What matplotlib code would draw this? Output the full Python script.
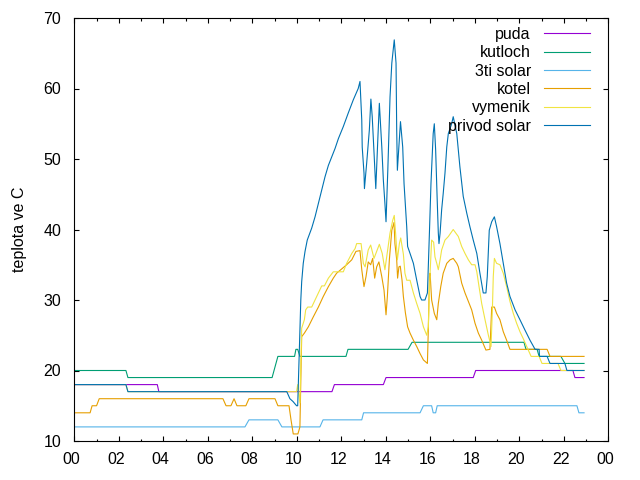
import matplotlib
matplotlib.use("Agg")
import matplotlib.pyplot as plt
import matplotlib.transforms as mtransforms
from matplotlib.ticker import FixedLocator, FuncFormatter, MultipleLocator

plt.rcParams['font.family'] = ['Liberation Sans', 'DejaVu Sans']

# ---- data (hours of day, temperature in C) ----
puda_t = [0, 3.73, 3.80, 11.58, 11.69, 13.89, 14.01, 17.93, 18.04, 22.41, 22.50, 22.91]
puda_v = [18, 18, 17, 17, 18, 18, 19, 19, 20, 20, 19, 19]

kutloch_t = [0, 2.32, 2.41, 8.89, 9.15, 9.90, 9.96, 10.04, 10.14, 12.21,
             12.30, 15.00, 15.18, 20.21, 20.30, 20.80, 20.89, 21.87, 22.05, 22.91]
kutloch_v = [20, 20, 19, 19, 22, 22, 23, 23, 22, 22,
             23, 23, 24, 24, 23, 23, 22, 22, 21, 21]

solar3_t = [0, 7.67, 7.85, 9.15, 9.33, 11.04, 11.18, 12.92, 13.00, 15.54,
            15.69, 16.06, 16.13, 16.24, 16.31, 22.59, 22.68, 22.91]
solar3_v = [12, 12, 13, 13, 12, 12, 13, 13, 14, 14,
            15, 15, 14, 14, 15, 15, 14, 14]

kotel_t = [0, 0.71, 0.80, 1.00, 1.12, 6.68, 6.82, 7.04, 7.18, 7.31,
           7.71, 7.85, 9.02, 9.15, 9.65, 9.74, 9.84, 10.05, 10.14, 10.22,
           10.34, 10.52, 10.74, 10.97, 11.19, 11.42, 11.64, 11.79, 12.24, 12.47,
           12.66, 12.84, 12.92, 13.02, 13.11, 13.21, 13.32, 13.41, 13.50, 13.59,
           13.69, 13.82, 13.92, 14.01, 14.07, 14.16, 14.27, 14.37, 14.41, 14.49,
           14.53, 14.59, 14.65, 14.73, 14.79, 14.88, 14.98, 15.09, 15.24, 15.39,
           15.54, 15.69, 15.87, 15.91, 15.96, 15.99, 16.06, 16.18, 16.29, 16.36,
           16.47, 16.58, 16.74, 16.89, 17.03, 17.19, 17.26, 17.41, 17.56, 17.71,
           17.86, 18.01, 18.16, 18.31, 18.50, 18.68, 18.76, 18.88, 18.98, 19.13,
           19.28, 19.43, 19.58, 21.25, 21.38, 22.91]
kotel_v = [14, 14, 15, 15, 16, 16, 15, 15, 16, 15,
           15, 16, 16, 15, 15, 13, 11, 11, 12, 24.8,
           25.3, 26.2, 27.6, 29, 30.5, 31.9, 33.1, 33.8, 35, 35.7,
           36.9, 37, 34.3, 31.9, 33.3, 35.4, 35, 35.9, 33.1, 34.7,
           35.4, 33.3, 31.4, 27.9, 30.5, 35.7, 39.9, 41, 38, 35.7,
           33.1, 34.7, 34.8, 32.8, 30.5, 28.2, 26.2, 25.3, 24.3, 23.4,
           22.4, 21.5, 21, 25.7, 33.3, 33.8, 30, 28.1, 27.2, 29.5,
           31.9, 33.8, 35.2, 35.7, 35.9, 35.2, 34.7, 32.4, 31, 29.8,
           28.6, 26.7, 25.3, 24.3, 22.9, 23, 29, 29, 28.1, 27.2,
           25.5, 24.3, 23, 23, 22, 22]

vymenik_t = [0, 2.32, 2.41, 9.99, 10.04, 10.14, 10.22, 10.34, 10.40, 10.49,
             10.67, 10.82, 10.97, 11.12, 11.24, 11.42, 11.64, 12.09, 12.24, 12.47,
             12.62, 12.69, 12.89, 12.99, 13.07, 13.21, 13.32, 13.47, 13.59, 13.71,
             13.84, 13.96, 14.19, 14.31, 14.38, 14.44, 14.52, 14.61, 14.67, 14.79,
             14.86, 14.94, 15.09, 15.24, 15.39, 15.54, 15.69, 15.84, 15.91, 15.99,
             16.06, 16.15, 16.21, 16.29, 16.36, 16.44, 16.51, 16.66, 16.81, 17.03,
             17.26, 17.41, 17.56, 17.71, 17.86, 18.01, 18.09, 18.19, 18.31, 18.46,
             18.61, 18.68, 18.73, 18.79, 18.83, 18.88, 18.98, 19.13, 19.28, 19.43,
             19.58, 19.73, 19.88, 20.03, 20.18, 20.53, 20.89, 21.02, 21.74, 21.87,
             22.91]
vymenik_v = [18, 18, 17, 17, 18, 15.4, 26, 27.2, 28.6, 29,
             29, 30, 31, 32, 32, 33.1, 34, 34, 35.2, 36.6,
             37.3, 38, 38, 35.2, 34.7, 37.1, 37.8, 35.9, 36.9, 37.9,
             36.6, 34.3, 39.5, 41.3, 42, 39.5, 35.7, 38, 38.8, 36.5,
             33.8, 32.8, 32.8, 31, 29.5, 28.1, 26.2, 25, 26.2, 33.8,
             38.5, 38.2, 36.1, 35.2, 34.3, 35.7, 37.1, 38.5, 39, 40,
             39, 37.6, 36.6, 35.7, 35, 35, 34, 31.9, 29.5, 27.2,
             25, 24.1, 23.4, 28.6, 33.3, 35.9, 35.2, 35, 33.8, 31.9,
             29.8, 28.1, 26.7, 25.5, 24.5, 22, 22, 21, 21, 20,
             20]

privod_t = [0, 2.32, 2.41, 9.55, 9.69, 9.83, 9.99, 10.04, 10.14, 10.18,
            10.22, 10.29, 10.37, 10.47, 10.67, 10.82, 10.97, 11.12, 11.27, 11.42,
            11.57, 11.72, 11.87, 12.09, 12.31, 12.54, 12.76, 12.84, 12.92, 12.94,
            13.02, 13.04, 13.14, 13.26, 13.33, 13.39, 13.48, 13.55, 13.64, 13.71,
            13.82, 13.89, 13.96, 14.01, 14.09, 14.19, 14.27, 14.38, 14.46, 14.49,
            14.52, 14.66, 14.76, 14.82, 14.94, 14.98, 15.09, 15.24, 15.39, 15.54,
            15.61, 15.76, 15.87, 15.91, 15.96, 16.03, 16.13, 16.18, 16.24, 16.31,
            16.36, 16.39, 16.44, 16.51, 16.58, 16.66, 16.74, 16.81, 16.96, 17.03,
            17.19, 17.33, 17.48, 17.64, 17.78, 17.93, 18.09, 18.23, 18.38, 18.50,
            18.56, 18.65, 18.76, 18.88, 18.98, 19.13, 19.28, 19.43, 19.58, 19.81,
            20.03, 20.26, 20.48, 20.71, 20.89, 20.91, 21.25, 21.38, 22.05, 22.14,
            22.91]
privod_v = [18, 18, 17, 17, 16, 15.6, 15, 15, 25.7, 30,
            32.6, 35.2, 36.9, 38.5, 40.2, 41.8, 43.7, 45.6, 47.5, 49.1,
            50.3, 51.5, 52.9, 54.6, 56.5, 58.4, 60, 61, 55.5, 51.7,
            48, 45.8, 49.4, 54.1, 58.5, 56, 50.3, 45.8, 52.7, 57.9,
            51.7, 47, 43.7, 41.1, 48.4, 58.8, 63.6, 66.9, 63.6, 54.1,
            48.4, 55.3, 51.7, 46.5, 40.4, 37.6, 36.6, 35.2, 32.8, 30.5,
            30, 30, 31, 34.7, 39.5, 46.5, 53.6, 55, 51.3, 44.2,
            39.5, 38, 39.5, 42.8, 45.1, 48, 51.7, 53.6, 55, 56,
            53.6, 48.9, 44.7, 42.3, 40.4, 38.5, 36.6, 33.8, 31, 31,
            33.3, 39.9, 41.1, 41.8, 40.4, 38, 35.2, 32.4, 30.5, 28.6,
            27.2, 25.7, 24.3, 23, 23, 22, 22, 21, 21, 20,
            20]

series = [
    ("puda", puda_t, puda_v, "#9400d3"),
    ("kutloch", kutloch_t, kutloch_v, "#009e73"),
    ("3ti solar", solar3_t, solar3_v, "#56b4e9"),
    ("kotel", kotel_t, kotel_v, "#e69f00"),
    ("vymenik", vymenik_t, vymenik_v, "#f0e442"),
    ("privod solar", privod_t, privod_v, "#0072b2"),
]

x_ticks = list(range(0, 25, 2))
y_ticks = list(range(10, 71, 10))
y_label = "teplota ve C"

fig = plt.figure(figsize=(6.4, 4.8), dpi=100)
ax = fig.add_axes([74.3 / 640, 39 / 480, 534 / 640, 423 / 480])

for name, t, v, c in series:
    assert len(t) == len(v), name
    ax.plot(t, v, color=c, lw=0.8, label=name)

ax.set_xlim(0, 24)
ax.set_ylim(10, 70)
ax.xaxis.set_major_locator(FixedLocator(x_ticks))
ax.xaxis.set_minor_locator(MultipleLocator(1))
ax.xaxis.set_major_formatter(FuncFormatter(lambda h, p: "%02d" % (int(round(h)) % 24)))
ax.yaxis.set_major_locator(FixedLocator(y_ticks))
ax.tick_params(which='both', direction='in', top=True, right=True, labelsize=11.5, width=0.8)
ax.tick_params(axis='x', which='major', length=3.5, pad=8)
ax.tick_params(axis='x', which='minor', length=1.8)
ax.tick_params(axis='y', which='major', length=3.5, pad=9.5)
for s in ax.spines.values():
    s.set_linewidth(0.8)

# gnuplot places the x labels slightly left of their ticks
shift = mtransforms.ScaledTranslation(-3 / 100, 0, fig.dpi_scale_trans)
for lbl in ax.get_xticklabels():
    lbl.set_transform(lbl.get_transform() + shift)

ax.set_ylabel(y_label, fontsize=11.5)
ax.yaxis.set_label_coords(-0.088, 0.5)

leg = ax.legend(loc='upper right', bbox_to_anchor=(0.9657, 0.979), frameon=False,
                markerfirst=False, fontsize=11.5, handlelength=2.9, handletextpad=0.8,
                labelspacing=0.21, borderpad=0, borderaxespad=0)

fig.savefig("out.png", dpi=100)
